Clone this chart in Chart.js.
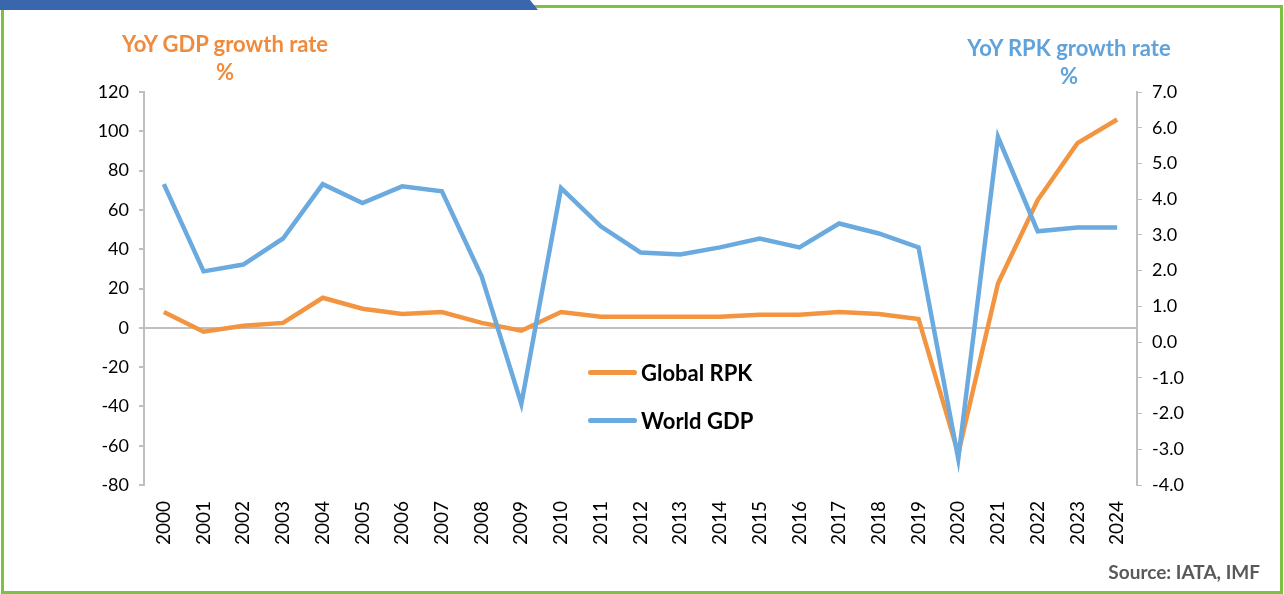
<!DOCTYPE html>
<html>
<head>
  <meta charset="utf-8" />
  <title>Global RPK vs World GDP</title>
  <script src="https://cdn.jsdelivr.net/npm/chart.js"></script>
  <style>
    body { margin: 0; background: #fff; font-family: Lato, sans-serif; }
    #wrap { position: relative; width: 1284px; height: 594px; overflow: hidden; }
    #frame { position: absolute; left: 1px; top: 5px; width: 1276px; height: 583px; border: 3px solid #7DC142; }
    #topbar { position: absolute; left: 0; top: 0; width: 538px; height: 10px; background: #3A66AE;
      clip-path: polygon(0 0, 530px 0, 538px 10px, 0 10px); }
    canvas { position: absolute; left: 0; top: 0; }
    .ttl { position: absolute; font-weight: bold; font-size: 22px; text-align: center; line-height: 28px; }
    #ttlL { left: 90px; top: 30px; width: 270px; color: #F08A3C; }
    #ttlR { left: 934px; top: 34px; width: 270px; color: #5FA3DA; }
    #legend { position: absolute; left: 588px; top: 348px; font-weight: bold; font-size: 22px; color: #000; }
    #legend div { height: 48px; display: flex; align-items: center; }
    #legend span.ln { display: inline-block; width: 49px; height: 5px; border-radius: 3px; margin-right: 4px; }
    #source { position: absolute; right: 24px; top: 560px; font-weight: bold; font-size: 19px; color: #595959; }
  </style>
</head>
<body>
<div id="wrap">
  <div id="frame"></div>
  <div id="topbar"></div>
  <canvas id="c" width="1284" height="594"></canvas>
  <div class="ttl" id="ttlL">YoY GDP growth rate<br>%</div>
  <div class="ttl" id="ttlR">YoY RPK growth rate<br>%</div>
  <div id="legend">
    <div><span class="ln" style="background:#F39441"></span>Global RPK</div>
    <div><span class="ln" style="background:#6AAADE"></span>World GDP</div>
  </div>
  <div id="source">Source: IATA, IMF</div>
</div>
<script>
  // years on the x axis
  const years = ['2000','2001','2002','2003','2004','2005','2006','2007','2008','2009','2010','2011',
    '2012','2013','2014','2015','2016','2017','2018','2019','2020','2021','2022','2023','2024'];

  // Global RPK, left axis
  const globalRpk = [8, -2, 1, 2.5, 15.3, 9.7, 7, 8, 2.5, -1.5, 8, 5.6,
    5.6, 5.6, 5.6, 6.6, 6.6, 8, 7, 4.5, -64, 22.5, 65, 94, 106];

  // World GDP, right axis
  const worldGdp = [4.42, 1.98, 2.17, 2.9, 4.42, 3.89, 4.36, 4.22, 1.84, -1.73, 4.31, 3.24,
    2.51, 2.45, 2.65, 2.9, 2.65, 3.32, 3.04, 2.65, -3.27, 5.74, 3.1, 3.21, 3.21];

  const leftMin = -80, leftMax = 120, leftStep = 20;
  const rightMin = -4, rightMax = 7, rightStep = 1;

  const axisGrey = '#BFBFBF';
  const tickFont = { family: 'Lato', size: 18 };

  new Chart(document.getElementById('c'), {
    type: 'line',
    data: {
      labels: years,
      datasets: [
        { label: 'Global RPK', data: globalRpk, yAxisID: 'yL', borderColor: '#F39441', backgroundColor: '#F39441',
          borderWidth: 4.5, pointRadius: 0, tension: 0, order: 2 },
        { label: 'World GDP', data: worldGdp, yAxisID: 'yR', borderColor: '#6AAADE', backgroundColor: '#6AAADE',
          borderWidth: 4.5, pointRadius: 0, tension: 0, order: 1 }
      ]
    },
    options: {
      responsive: false,
      animation: false,
      layout: { padding: { top: 92, left: 0, right: 0, bottom: 0 } },
      plugins: { legend: { display: false }, tooltip: { enabled: false } },
      scales: {
        x: {
          offset: true,
          grid: { display: false },
          border: { display: false },
          ticks: { color: '#000', font: { family: 'Lato', size: 19 }, minRotation: 90, maxRotation: 90, padding: 8 },
          afterFit: s => { s.height = 109; }
        },
        yL: {
          position: 'left',
          min: leftMin, max: leftMax,
          ticks: { stepSize: leftStep, color: '#000', font: tickFont, padding: 10 },
          grid: {
            color: c => c.tick && c.tick.value === 0 ? axisGrey : 'transparent',
            lineWidth: 2,
            tickColor: axisGrey, tickLength: 5
          },
          border: { color: axisGrey, width: 2 },
          afterFit: s => { s.width = 144; }
        },
        yR: {
          position: 'right',
          min: rightMin, max: rightMax,
          ticks: { stepSize: rightStep, color: '#000', font: tickFont, padding: 10,
            callback: v => v.toFixed(1) },
          grid: { drawOnChartArea: false, tickColor: axisGrey, tickLength: 5 },
          border: { color: axisGrey, width: 2 },
          afterFit: s => { s.width = 147; }
        }
      }
    }
  });
</script>
</body>
</html>
